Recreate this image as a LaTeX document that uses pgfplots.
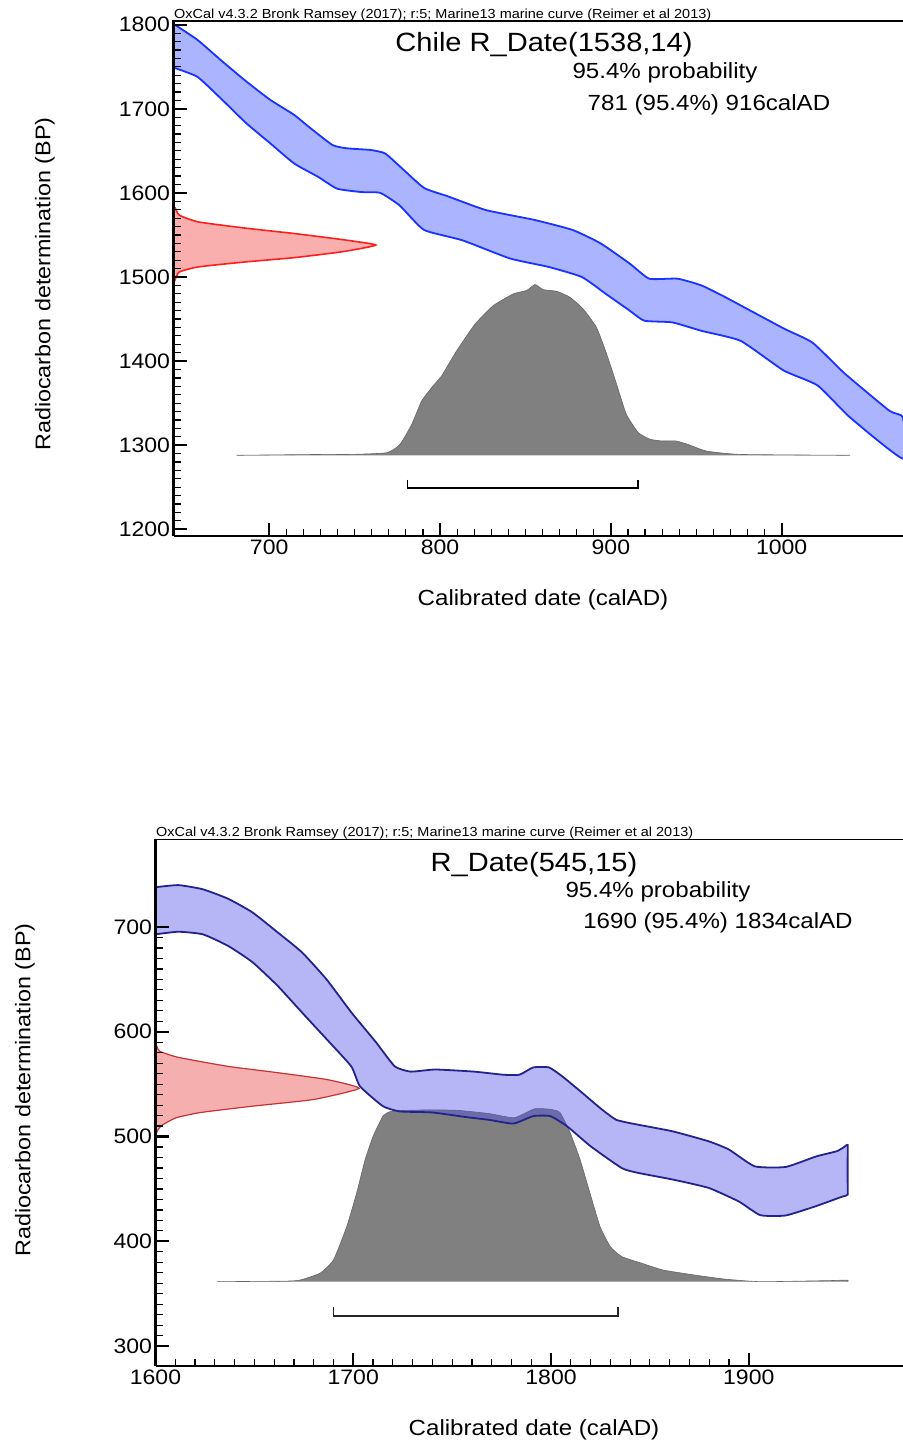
\documentclass[border=0pt]{standalone}
\usepackage{fontspec}
\setmainfont{Liberation Sans}[FakeStretch=1.1]
\usepackage{pgfplots}
\pgfplotsset{compat=1.18}

\definecolor{topblue}{RGB}{25,50,255}
\definecolor{topbluefill}{RGB}{170,180,255}
\definecolor{topred}{RGB}{255,30,30}
\definecolor{topredfill}{RGB}{250,175,175}
\definecolor{botblue}{RGB}{35,35,140}
\definecolor{botbluefill}{RGB}{80,80,235}
\definecolor{botred}{RGB}{200,50,50}
\definecolor{botredfill}{RGB}{245,175,175}
\definecolor{distgray}{RGB}{128,128,128}

\pgfplotsset{
  oxcal/.style={
    scale only axis,
    anchor=south west,
    axis x line*=bottom,
    axis y line*=left,
    axis line style={line width=2.4bp, black},
    axis on top,
    tick align=inside,
    major tick length=13bp,
    minor tick length=7bp,
    every tick/.style={black, line width=1.2bp},
    every major tick/.append style={line width=2.2bp},
    minor x tick num=9,
    minor y tick num=9,
    tick label style={font=\fontsize{21}{25}\selectfont},
    /pgf/number format/assume math mode=true,
    /pgf/number format/set thousands separator={},
  },
}

\begin{document}
\begin{tikzpicture}
\path[use as bounding box] (0,0) rectangle (903bp,-1446bp);

% ---- upper panel: Chile R_Date(1538,14)
\begin{axis}[oxcal,
    at={(173.5bp,-536bp)}, width=729.5bp, height=515.5bp,
    xmin=644, xmax=1071, ymin=1192, ymax=1805,
    xtick={700,800,900,1000}, ytick={1200,1300,...,1800}]
  % calibrated date
  \addplot[smooth, tension=0.3, fill=distgray, draw=distgray!80!black, line width=0.6bp] coordinates {
    (681,1288) (731.6,1289) (747.4,1289) (768.8,1291) (776.6,1301) (783.5,1325)
    (789.3,1352.7) (796,1370.6) (801,1382.6) (809.8,1412.4) (820.5,1444)
    (831.2,1466) (843,1480) (850.7,1484) (855.6,1491) (860.4,1485) (868.2,1483)
    (876,1476) (883.8,1462) (891.6,1440) (897.5,1408.6) (903.3,1372.8)
    (909,1337) (916,1315) (923,1307) (930,1305) (938,1305) (945,1301)
    (956,1293) (976,1289) (1040,1288)};
  % calibration curve, 2 sigma band
  \addplot[smooth, tension=0.3, fill=topbluefill, draw=topblue, line width=1.8bp] coordinates {
    (644,1801) (658,1782) (672.5,1756.5) (686.5,1732.7) (700.6,1710.7)
    (714.6,1692.8) (723,1678.9) (737,1657) (745.6,1653) (759.6,1651)
    (767.8,1647) (776.4,1631.7) (790.6,1606) (804.5,1596) (827,1579.5)
    (855,1568) (877.5,1556) (894,1540) (911,1516) (922.5,1498) (939,1498)
    (953,1490) (967,1476) (1001,1439) (1018,1422) (1037,1385) (1063,1341)
    (1071,1333)
    (1071,1284) (1040,1333) (1021,1371) (1001,1389) (976,1424) (953,1436)
    (936,1446) (919.6,1448) (911,1460) (897,1480) (883,1500) (863.5,1512)
    (841,1522) (813,1543.7) (790.6,1556) (776.4,1585) (765,1600) (754,1601)
    (739.8,1605) (728.7,1619) (714.6,1635) (700.6,1659) (686.5,1683)
    (672.5,1710.7) (658,1738) (644,1749)};
  % radiocarbon measurement
  \addplot[smooth, tension=0.3, fill=topredfill, draw=topred, line width=1.6bp] coordinates {
    (644,1584) (645,1582) (647.4,1573.5) (658.5,1565.5) (686.5,1558)
    (714.6,1551.7) (742.7,1544.5) (762.4,1538) (742.7,1530) (714.6,1523)
    (686.5,1518) (658.5,1512) (647.4,1506) (645,1497) (644,1492)};
  % 95.4% range
  \addplot[black, line width=1.6bp] coordinates {
    (781,1259) (781,1249) (916,1249) (916,1259)};
  \draw[line width=2.4bp] (rel axis cs:0,1) -- (rel axis cs:1,1);
\end{axis}

\node[anchor=base west, font=\fontsize{13.2}{15}\selectfont, inner sep=0pt]
  at (174bp,-18.5bp) {OxCal v4.3.2 Bronk Ramsey (2017); r:5; Marine13 marine curve (Reimer et al 2013)};
\node[font=\fontsize{26.5}{31}\selectfont] at (544bp,-45bp) {Chile R\_Date(1538,14)};
\node[font=\fontsize{22}{26}\selectfont] at (665bp,-73bp) {95.4\% probability};
\node[font=\fontsize{22}{26}\selectfont] at (709bp,-105bp) {781 (95.4\%) 916calAD};
\node[font=\fontsize{22}{26}\selectfont] at (543bp,-600bp) {Calibrated date (calAD)};
\node[font=\fontsize{21.3}{25}\selectfont, rotate=90] at (45bp,-284bp) {Radiocarbon determination (BP)};

% ---- lower panel: R_Date(545,15)
\begin{axis}[oxcal,
    at={(155.5bp,-1366bp)}, width=747.5bp, height=527bp,
    xmin=1600, xmax=1978, ymin=281, ymax=784,
    xtick={1600,1700,1800,1900}, ytick={300,400,...,700}]
  % calibrated date
  \addplot[smooth, tension=0.3, fill=distgray, draw=distgray!80!black, line width=0.6bp] coordinates {
    (1631,361.5) (1665,362) (1673,363) (1683.2,369.6) (1690,382.3) (1696.7,414)
    (1701.7,446) (1706,478) (1710,500) (1715,519.4) (1719,524) (1727,525)
    (1740,525.5) (1753,525) (1768.5,522) (1781.4,518) (1791.7,526.5)
    (1799.6,526) (1804.5,523) (1809.6,504) (1814.7,478) (1819.7,446)
    (1824.8,414) (1830,395) (1835.7,385.5) (1846,379) (1856.5,372.7)
    (1872,368) (1887.6,364) (1906,361.5) (1940,362.5) (1950,363) (1950,361.5)};
  % calibration curve, 2 sigma band
  \addplot[smooth, tension=0.3, fill=botbluefill, fill opacity=0.42, draw=botblue, line width=1.8bp] coordinates {
    (1600,738) (1611.6,740) (1624,736) (1636.7,727) (1649,714) (1661.7,695)
    (1674,676) (1686.5,650) (1699,618.6) (1711.5,590) (1721,567) (1729,562)
    (1741.5,564) (1761,562) (1776,559) (1784,559) (1791,566) (1799,566)
    (1806,557) (1815,543) (1825,527) (1833,516) (1843.6,511.5) (1861.5,505)
    (1879.7,495.5) (1890,487.6) (1903,471.6) (1918.7,471) (1934,481)
    (1944.5,486) (1948,489.8) (1950,492)
    (1950,480) (1950,468) (1950,456) (1950,444.5)
    (1947,442.5) (1934,433.6) (1918.7,424.7) (1905.8,425) (1895,438)
    (1879.7,451) (1861.5,459) (1843.6,465.5) (1835.7,470) (1820,490.8)
    (1808,510) (1799.6,519.5) (1791,519.5) (1781,512.4) (1768.5,516)
    (1757,518.6) (1740,523) (1723.6,524) (1715,529) (1703.4,548) (1699,567)
    (1686.5,593) (1674,618.6) (1661.7,644) (1649,666.5) (1636.7,682)
    (1624,693) (1611.6,695.5) (1600,693)};
  % radiocarbon measurement
  \addplot[smooth, tension=0.3, fill=botredfill, draw=botred, line width=1.2bp] coordinates {
    (1600,590) (1602,581.6) (1611.6,575.6) (1636.7,567) (1661.7,561)
    (1686.5,554.5) (1703,546) (1680,535.4) (1649,529) (1623,523)
    (1610.5,518) (1602.7,510) (1600,502)};
  % 95.4% range
  \addplot[black!85, line width=1.6bp] coordinates {
    (1690,337) (1690,329) (1834,329) (1834,337)};
  \draw[line width=2.4bp] (rel axis cs:0,1) -- (rel axis cs:1,1);
\end{axis}

\node[anchor=base west, font=\fontsize{13.2}{15}\selectfont, inner sep=0pt]
  at (156bp,-836.5bp) {OxCal v4.3.2 Bronk Ramsey (2017); r:5; Marine13 marine curve (Reimer et al 2013)};
\node[font=\fontsize{26.5}{31}\selectfont] at (534bp,-865bp) {R\_Date(545,15)};
\node[font=\fontsize{22}{26}\selectfont] at (658bp,-892bp) {95.4\% probability};
\node[font=\fontsize{22}{26}\selectfont] at (718bp,-923bp) {1690 (95.4\%) 1834calAD};
\node[font=\fontsize{22}{26}\selectfont] at (534bp,-1430bp) {Calibrated date (calAD)};
\node[font=\fontsize{21.3}{25}\selectfont, rotate=90] at (25bp,-1090bp) {Radiocarbon determination (BP)};
\end{tikzpicture}
\end{document}
